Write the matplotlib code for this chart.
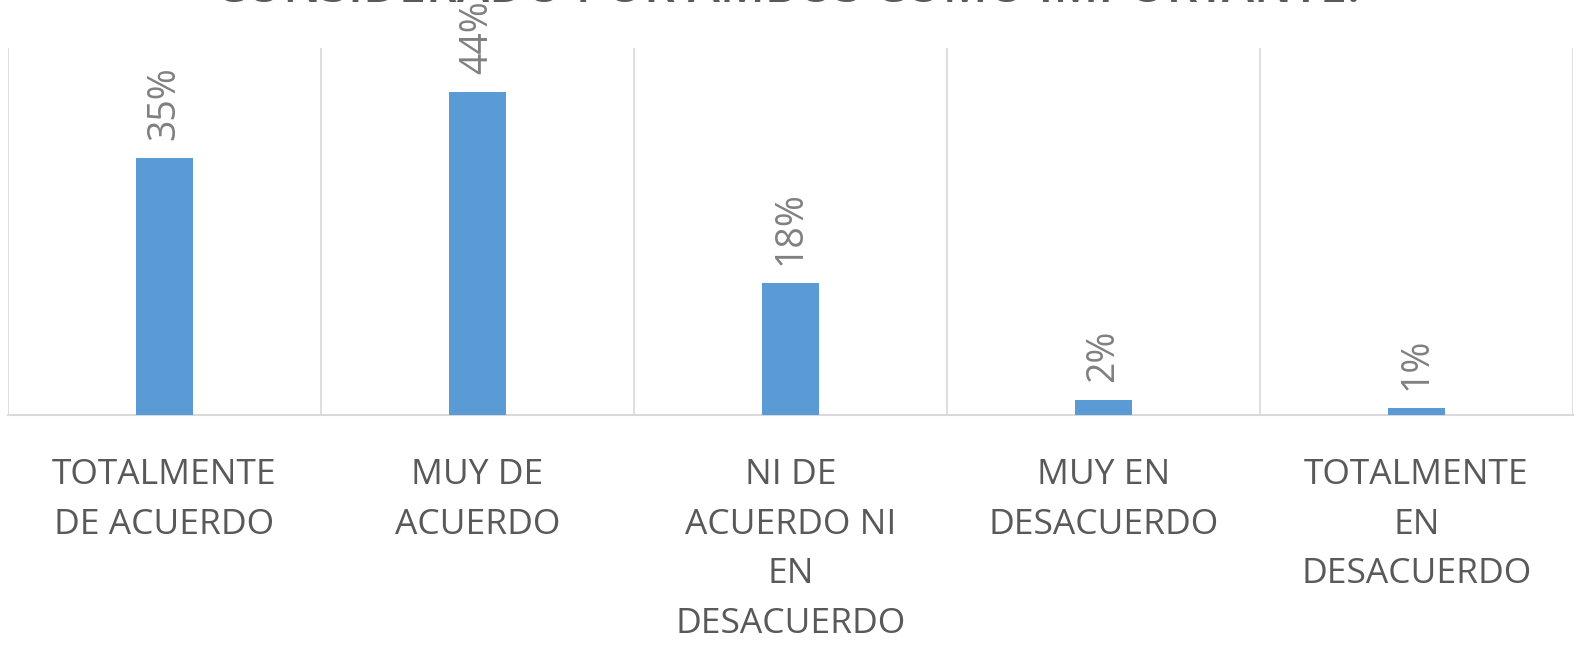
import matplotlib.pyplot as plt

categories = [
    "TOTALMENTE\nDE ACUERDO",
    "MUY DE\nACUERDO",
    "NI DE\nACUERDO NI\nEN\nDESACUERDO",
    "MUY EN\nDESACUERDO",
    "TOTALMENTE\nEN\nDESACUERDO",
]
values = [35, 44, 18, 2, 1]
title = "CONSIDERADO POR AMBOS COMO IMPORTANTE."

bar_color = "#5b9bd5"
grid_color = "#d9d9d9"
text_color = "#595959"
label_color = "#808080"

plt.rcParams["font.family"] = ["Open Sans", "DejaVu Sans"]

fig = plt.figure(figsize=(15.76, 6.46), dpi=100)
ax = fig.add_axes([8 / 1576, 1 - 415 / 646, 1565 / 1576, 367 / 646])

x = list(range(len(categories)))
bars = ax.bar(x, values, width=0.185, color=bar_color, zorder=3)

for rect, v in zip(bars, values):
    ax.annotate(
        f"{v}%",
        xy=(rect.get_x() + rect.get_width() / 2, rect.get_height()),
        xytext=(0, 13),
        textcoords="offset points",
        ha="center",
        va="bottom",
        rotation=90,
        fontsize=27,
        color=label_color,
        annotation_clip=False,
    )

ax.set_xlim(-0.5, len(categories) - 0.5)
ax.set_ylim(0, 50)

for b in [i - 0.5 for i in range(len(categories) + 1)]:
    ax.axvline(b, color=grid_color, linewidth=1.2, zorder=1)

for side in ["top", "right", "left"]:
    ax.spines[side].set_visible(False)
ax.spines["bottom"].set_color(grid_color)
ax.spines["bottom"].set_linewidth(1.5)

ax.set_yticks([])
ax.set_xticks(x)
ax.set_xticklabels(
    categories,
    fontsize=25.5,
    color=text_color,
    linespacing=1.6,
)
ax.tick_params(axis="x", length=0, pad=31)

fig.text(
    0.5,
    1 - 2 / 646,
    title,
    ha="center",
    va="baseline",
    fontsize=35,
    fontweight="semibold",
    color=text_color,
)

fig.savefig("out.png", dpi=100)
